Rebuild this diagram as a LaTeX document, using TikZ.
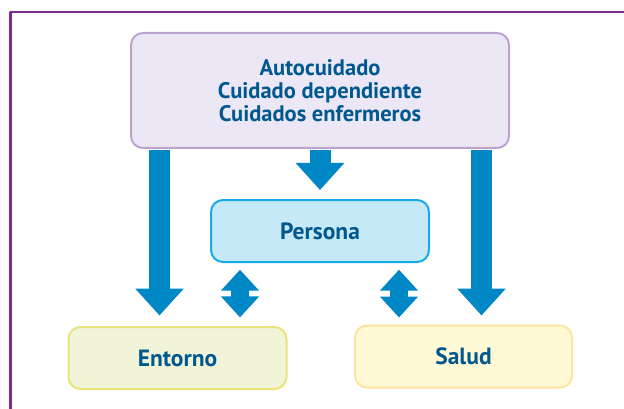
\documentclass[tikz,border=0pt]{standalone}
\usepackage{fontspec}
\setmainfont{PT Sans}
\usepackage{tikz}
\usetikzlibrary{arrows.meta}
\definecolor{framepurple}{HTML}{7F2B90}
\definecolor{textblue}{HTML}{00588F}
\definecolor{arrowblue}{HTML}{0088C6}
\definecolor{lilacfill}{HTML}{ECE7F4}
\definecolor{lilacline}{HTML}{BDA3D1}
\definecolor{skyfill}{HTML}{C6E9F8}
\definecolor{skyline}{HTML}{16ACE8}
\definecolor{limefill}{HTML}{F1F4D6}
\definecolor{limeline}{HTML}{E8E47A}
\definecolor{creamfill}{HTML}{FFF9D5}
\definecolor{creamline}{HTML}{FDE4A0}

\begin{document}
\begin{tikzpicture}[line cap=butt,line join=round,x=1pt,y=-1pt,
  box/.style={rounded corners=12pt,line width=2pt,inner sep=0pt,
    font=\bfseries\fontsize{23.5}{24}\selectfont,text=textblue,align=center},
  bigarrow/.style={arrowblue,line width=21pt,-{Triangle[width=47pt,length=27pt]}},
  duoarrow/.style={arrowblue,line width=18pt,
    {Triangle[width=37pt,length=21pt]}-{Triangle[width=37pt,length=21pt]}}]
\useasboundingbox (0,0) rectangle (624,409);
% frame
\draw [framepurple,line width=2.4pt] (10.3,420) -- (10.3,12) -- (640,12);
% boxes
\node [box,draw=lilacline,fill=lilacfill,minimum width=378pt,minimum height=115pt,
  font=\bfseries\fontsize{22.5}{23}\selectfont] (cuidado) at (320,90.5)
  {Autocuidado\\Cuidado dependiente\\Cuidados enfermeros};
\node [box,draw=skyline,fill=skyfill,minimum width=218pt,minimum height=62pt] (persona) at (320,231) {Persona};
\node [box,draw=limeline,fill=limefill,minimum width=218pt,minimum height=62pt] (entorno) at (177.5,358) {Entorno};
\node [box,draw=creamline,fill=creamfill,minimum width=217pt,minimum height=62pt] (salud) at (463.5,356.5) {Salud};
% arrows
\draw [bigarrow,shorten <=1pt,shorten >=10.5pt] ([xshift=29.5pt]cuidado.south west) -- ([xshift=29.5pt]cuidado.south west |- entorno.north);
\draw [bigarrow,shorten <=1pt,shorten >=9pt] (cuidado.south) -- (persona.north);
\draw [bigarrow,shorten <=1pt,shorten >=9pt] ([xshift=-28.5pt]cuidado.south east) -- ([xshift=-28.5pt]cuidado.south east |- salud.north);
\draw [duoarrow,shorten <=6.7pt,shorten >=8.6pt] ([xshift=30pt]persona.south west) -- ([xshift=30pt]persona.south west |- entorno.north);
\draw [duoarrow,shorten <=6.7pt,shorten >=7pt] ([xshift=-31pt]persona.south east) -- ([xshift=-31pt]persona.south east |- salud.north);
\end{tikzpicture}
\end{document}
